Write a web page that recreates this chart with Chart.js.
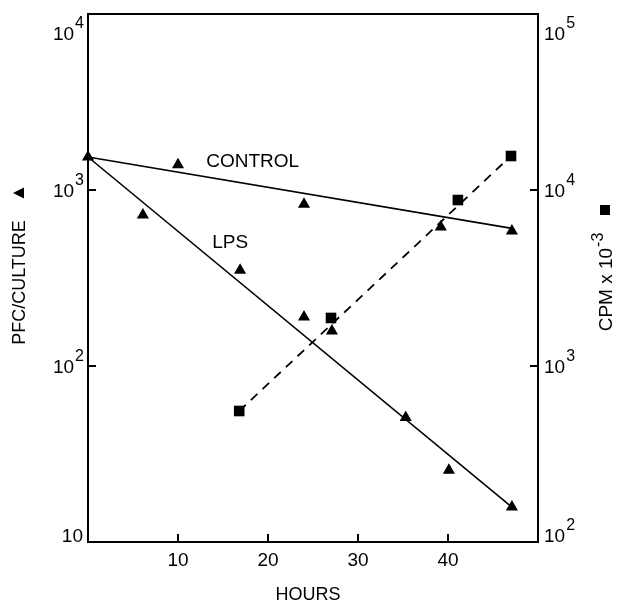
<!DOCTYPE html>
<html>
<head>
<meta charset="utf-8">
<script src="https://cdn.jsdelivr.net/npm/chart.js@4.4.1/dist/chart.umd.min.js"></script>
<style>
  html, body { margin: 0; padding: 0; background: #fff; }
  canvas { display: block; }
</style>
</head>
<body>
<canvas id="chart" width="619" height="603"></canvas>
<script>
// measured points, PFC per culture (left axis)
const controlHours = [0, 10, 24, 39.2, 47.1];
const controlPfc = [1540, 1390, 830, 617, 585];
const lpsHours = [6.1, 16.9, 24, 27.1, 35.3, 40.1, 47.1];
const lpsPfc = [720, 350, 190, 158, 51, 25.6, 15.8];

// CPM x 10^-3 (right axis)
const cpmHours = [16.8, 27, 41.1, 47];
const cpmValues = [555, 1875, 8770, 15600];

// fitted lines, end points
const controlFitHours = [0, 47.1];
const controlFitPfc = [1540, 605];
const lpsFitHours = [0, 47.1];
const lpsFitPfc = [1540, 15.8];
const cpmFitHours = [16.8, 47];
const cpmFitValues = [555, 15600];

const hourTicks = [10, 20, 30, 40];
const pfcTicks = [10, 100, 1000, 10000];
const pfcTickLabels = [['10', ''], ['10', '2'], ['10', '3'], ['10', '4']];
const cpmTicks = [100, 1000, 10000, 100000];
const cpmTickLabels = [['10', '2'], ['10', '3'], ['10', '4'], ['10', '5']];

const lineLabels = ['CONTROL', 'LPS'];
const lineLabelHours = [18.3, 15.8];
const lineLabelPfc = [1442, 500];

const FONT = '"Liberation Sans", Arial, sans-serif';

const pts = (xs, ys) => xs.map((x, i) => ({ x, y: ys[i] }));

function powLabel(ctx, base, exp, x, yBase, align) {
  ctx.font = '19px ' + FONT;
  const bw = ctx.measureText(base).width;
  ctx.font = '16px ' + FONT;
  const ew = exp ? ctx.measureText(exp).width : 0;
  const left = align === 'right' ? x - bw - ew : x;
  ctx.textAlign = 'left';
  ctx.textBaseline = 'alphabetic';
  ctx.font = '19px ' + FONT;
  ctx.fillText(base, left, yBase);
  if (exp) {
    ctx.font = '16px ' + FONT;
    ctx.fillText(exp, left + bw + 1, yBase - 12);
  }
}

const frame = {
  id: 'frame',
  afterDatasetsDraw(chart) {
    const { ctx, chartArea: a, scales: { x, y, y2 } } = chart;
    ctx.save();
    ctx.strokeStyle = '#000';
    ctx.fillStyle = '#000';
    ctx.lineWidth = 2;
    ctx.strokeRect(a.left, a.top, a.right - a.left, a.bottom - a.top);

    // ticks point inward
    ctx.beginPath();
    hourTicks.forEach((h) => {
      const px = Math.round(x.getPixelForValue(h));
      ctx.moveTo(px, a.bottom);
      ctx.lineTo(px, a.bottom - 8);
    });
    pfcTicks.forEach((v) => {
      const py = Math.round(y.getPixelForValue(v));
      ctx.moveTo(a.left, py);
      ctx.lineTo(a.left + 8, py);
    });
    cpmTicks.forEach((v) => {
      const py = Math.round(y2.getPixelForValue(v));
      ctx.moveTo(a.right, py);
      ctx.lineTo(a.right - 8, py);
    });
    ctx.stroke();

    const baseFor = (py) => {
      if (py <= a.top + 1) return a.top + 26;
      if (py >= a.bottom - 1) return a.bottom;
      return py + 7;
    };
    pfcTicks.forEach((v, i) => {
      const py = y.getPixelForValue(v);
      powLabel(ctx, pfcTickLabels[i][0], pfcTickLabels[i][1], a.left - 5, baseFor(py), 'right');
    });
    cpmTicks.forEach((v, i) => {
      const py = y2.getPixelForValue(v);
      powLabel(ctx, cpmTickLabels[i][0], cpmTickLabels[i][1], a.right + 6, baseFor(py), 'left');
    });

    ctx.font = '19px ' + FONT;
    ctx.textAlign = 'center';
    ctx.textBaseline = 'alphabetic';
    hourTicks.forEach((h) => {
      ctx.fillText(String(h), x.getPixelForValue(h), a.bottom + 24);
    });

    // line labels
    lineLabels.forEach((t, i) => {
      ctx.textBaseline = 'middle';
      ctx.fillText(t, x.getPixelForValue(lineLabelHours[i]), y.getPixelForValue(lineLabelPfc[i]));
    });

    // axis titles
    ctx.textBaseline = 'alphabetic';
    ctx.font = '18px ' + FONT;
    ctx.fillText('HOURS', (a.left + a.right) / 2 - 5, a.bottom + 58);

    ctx.save();
    ctx.translate(25, 282.5);
    ctx.rotate(-Math.PI / 2);
    ctx.fillText('PFC/CULTURE', 0, 0);
    ctx.beginPath();
    ctx.moveTo(89.5, -12);
    ctx.lineTo(95, -1);
    ctx.lineTo(84, -1);
    ctx.closePath();
    ctx.fill();
    ctx.restore();

    ctx.save();
    ctx.translate(612, 282.5);
    ctx.rotate(-Math.PI / 2);
    ctx.textAlign = 'left';
    ctx.font = '19px ' + FONT;
    const main = 'CPM x 10';
    const mw = ctx.measureText(main).width;
    ctx.font = '16px ' + FONT;
    const sw = ctx.measureText('-3').width;
    const start = -(mw + sw) / 2;
    ctx.font = '19px ' + FONT;
    ctx.fillText(main, start, 0);
    ctx.font = '16px ' + FONT;
    ctx.fillText('-3', start + mw + 1, -9);
    ctx.fillRect(67.5, -12, 10, 10);
    ctx.restore();

    ctx.restore();
  },
};

new Chart(document.getElementById('chart'), {
  type: 'scatter',
  data: {
    datasets: [
      {
        data: pts(controlFitHours, controlFitPfc),
        yAxisID: 'y',
        showLine: true,
        borderColor: '#000',
        borderWidth: 1.6,
        pointRadius: 0,
        clip: false,
      },
      {
        data: pts(lpsFitHours, lpsFitPfc),
        yAxisID: 'y',
        showLine: true,
        borderColor: '#000',
        borderWidth: 1.6,
        pointRadius: 0,
        clip: false,
      },
      {
        data: pts(cpmFitHours, cpmFitValues),
        yAxisID: 'y2',
        showLine: true,
        borderColor: '#000',
        borderWidth: 1.8,
        borderDash: [9, 7],
        pointRadius: 0,
        clip: false,
      },
      {
        data: pts(controlHours, controlPfc),
        yAxisID: 'y',
        pointStyle: 'triangle',
        pointRadius: 7,
        backgroundColor: '#000',
        borderColor: '#000',
        borderWidth: 0,
        clip: false,
      },
      {
        data: pts(lpsHours, lpsPfc),
        yAxisID: 'y',
        pointStyle: 'triangle',
        pointRadius: 7,
        backgroundColor: '#000',
        borderColor: '#000',
        borderWidth: 0,
        clip: false,
      },
      {
        data: pts(cpmHours, cpmValues),
        yAxisID: 'y2',
        pointStyle: 'rect',
        pointRadius: 7.5,
        backgroundColor: '#000',
        borderColor: '#000',
        borderWidth: 0,
        clip: false,
      },
    ],
  },
  options: {
    responsive: false,
    animation: false,
    layout: { padding: { left: 88, right: 81, top: 14, bottom: 61 } },
    plugins: {
      legend: { display: false },
      tooltip: { enabled: false },
    },
    scales: {
      x: { type: 'linear', min: 0, max: 50, display: false },
      y: { type: 'logarithmic', min: 10, max: 10000, display: false },
      y2: { type: 'logarithmic', position: 'right', min: 100, max: 100000, display: false },
    },
  },
  plugins: [frame],
});
</script>
</body>
</html>
